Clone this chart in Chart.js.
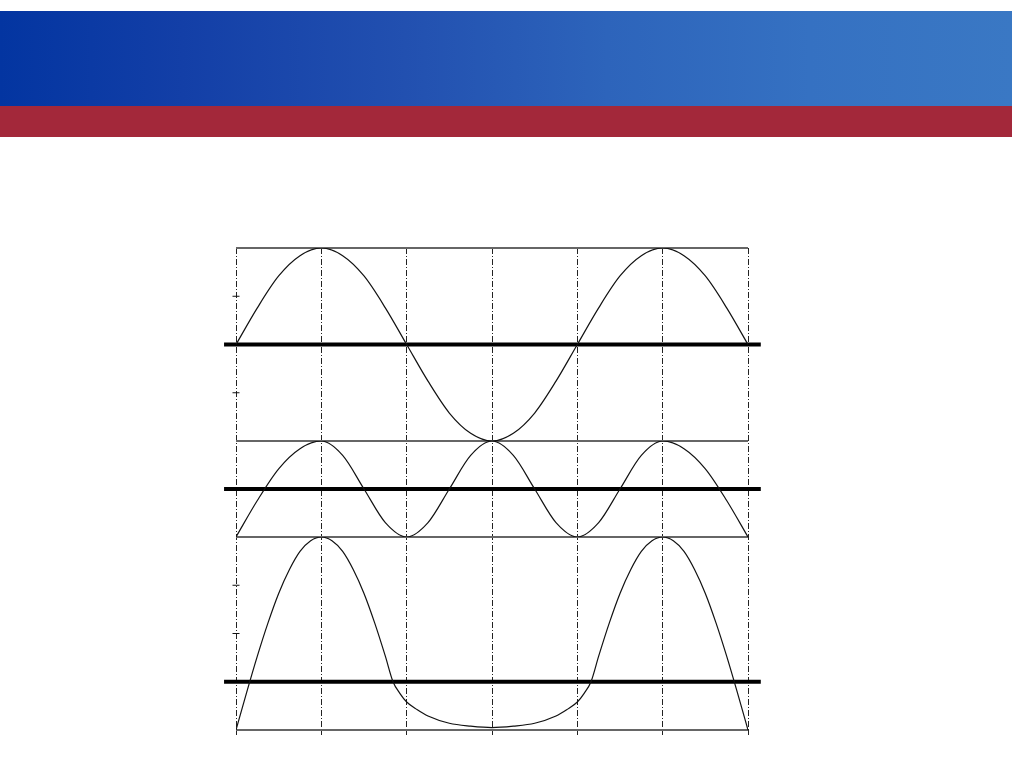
<!DOCTYPE html>
<html>
<head>
<meta charset="utf-8">
<title>Waves</title>
<script src="https://cdn.jsdelivr.net/npm/chart.js@4/dist/chart.umd.min.js"></script>
<style>
    body { margin: 0; background: #fff; width: 1012px; height: 782px; overflow: hidden; position: relative; }
    .band-blue {
        position: absolute; left: 0; top: 11px; width: 1012px; height: 95px;
        background: linear-gradient(to right, #0335a1 0%, #133fa7 18%, #2250b0 40%, #2d64bb 60%, #3571c2 80%, #3a78c4 100%);
    }
    .band-red { position: absolute; left: 0; top: 106px; width: 1012px; height: 31px; background: #a3283a; }
    #wrap { position: absolute; left: 196px; top: 228px; }
</style>
</head>
<body>
<div class="band-blue"></div>
<div class="band-red"></div>
<div id="wrap"><canvas id="chart" width="580" height="520"></canvas></div>
<script>
// x positions in quarter periods
const xs = [0, 0.25, 0.5, 0.75, 1, 1.25, 1.5, 1.75, 2, 2.25, 2.5, 2.75, 3,
    3.25, 3.5, 3.75, 4, 4.25, 4.5, 4.75, 5, 5.25, 5.5, 5.75, 6];

// top panel
const waveTop = [0, 0.38, 0.71, 0.92, 1, 0.92, 0.71, 0.38, 0, -0.38, -0.71, -0.92, -1,
    -0.92, -0.71, -0.38, 0, 0.38, 0.71, 0.92, 1, 0.92, 0.71, 0.38, 0];

// middle panel
const waveMid = [0, 0.38, 0.71, 0.92, 1, 0.85, 0.5, 0.15, 0, 0.15, 0.5, 0.85, 1,
    0.85, 0.5, 0.15, 0, 0.15, 0.5, 0.85, 1, 0.92, 0.71, 0.38, 0];

// bottom panel, sampled finer around the bends
const xsLow = [0, 0.125, 0.25, 0.375, 0.5, 0.625, 0.75, 0.875, 1, 1.125, 1.25, 1.375, 1.5,
    1.625, 1.75, 1.84, 1.92, 2, 2.125, 2.25, 2.5, 2.75, 3, 3.25, 3.5, 3.75, 3.875, 4,
    4.08, 4.16, 4.25, 4.375, 4.5, 4.625, 4.75, 4.875, 5, 5.125, 5.25, 5.375, 5.5, 5.625,
    5.75, 5.875, 6];
const waveLow = [-1, -0.22, 0.53, 1.22, 1.83, 2.32, 2.7, 2.92, 3, 2.92, 2.7, 2.32, 1.83,
    1.22, 0.53, 0, -0.24, -0.42, -0.58, -0.71, -0.86, -0.92, -0.95, -0.92, -0.86, -0.71, -0.58, -0.42,
    -0.24, 0, 0.53, 1.22, 1.83, 2.32, 2.7, 2.92, 3, 2.92, 2.7, 2.32, 1.83, 1.22,
    0.53, -0.22, -1];

// reference levels (thick lines), panel ranges and small tick marks
const levelTop = 0, levelMid = 0.5, levelLow = 0;
const rangeTop = [-1, 1], rangeMid = [0, 1], rangeLow = [-1, 3];
const marksTop = [-0.5, 0.5], marksLow = [1, 2];

const X_MIN = 0, X_MAX = 6;
const LINE_FROM = -0.14, LINE_TO = 6.15;
const dashDot = [6, 2, 1, 2];

var toPoints = function(xv, yv) {
    return yv.map((v, i) => ({ x: xv[i], y: v }));
};

var curve = function(data, axis) {
    return {
        data: data,
        yAxisID: axis,
        borderColor: '#111',
        borderWidth: 1.2,
        pointRadius: 0,
        cubicInterpolationMode: 'monotone',
        fill: false,
    };
};

var hline = function(value, axis, from, to, color, width) {
    return {
        data: [{ x: from, y: value }, { x: to, y: value }],
        yAxisID: axis,
        borderColor: color,
        borderWidth: width,
        pointRadius: 0,
        clip: false,
        fill: false,
    };
};

// short tick marks on the left edge
var marks = function(values, axis) {
    return {
        data: values.map(v => ({ x: X_MIN, y: v })),
        yAxisID: axis,
        showLine: false,
        pointStyle: 'line',
        pointRadius: 3.5,
        borderColor: '#111',
        borderWidth: 1,
        clip: false,
    };
};

var panelAxis = function(range, weight) {
    return {
        type: 'linear',
        position: 'left',
        stack: 'panels',
        stackWeight: weight,
        min: range[0],
        max: range[1],
        ticks: { display: false },
        border: { display: false },
        grid: { display: false, drawTicks: false },
    };
};

var datasets = [
    curve(toPoints(xsLow, waveLow), 'yLow'),
    curve(toPoints(xs, waveMid), 'yMid'),
    curve(toPoints(xs, waveTop), 'yTop'),
];
[['yTop', rangeTop], ['yMid', rangeMid], ['yLow', rangeLow]].forEach(p => {
    datasets.push(hline(p[1][0], p[0], X_MIN, X_MAX, '#666', 2));
    datasets.push(hline(p[1][1], p[0], X_MIN, X_MAX, '#666', 2));
});
datasets.push(hline(levelLow, 'yLow', LINE_FROM, LINE_TO, '#000', 4));
datasets.push(hline(levelMid, 'yMid', LINE_FROM, LINE_TO, '#000', 4));
datasets.push(hline(levelTop, 'yTop', LINE_FROM, LINE_TO, '#000', 4));
datasets.push(marks(marksTop, 'yTop'));
datasets.push(marks(marksLow, 'yLow'));

var ctx = document.getElementById('chart');
var chart = new Chart(ctx, {
    type: 'line',
    data: { datasets: datasets },
    options: {
        responsive: false,
        animation: false,
        devicePixelRatio: 1,
        layout: { padding: { left: 40, right: 28, top: 20, bottom: 13 } },
        plugins: { legend: { display: false }, tooltip: { enabled: false } },
        scales: {
            x: {
                type: 'linear',
                min: X_MIN,
                max: X_MAX,
                ticks: { display: false, stepSize: 1 },
                border: { display: false, dash: dashDot },
                grid: {
                    color: '#222',
                    lineWidth: 1,
                    tickLength: 5,
                    tickBorderDash: dashDot,
                },
            },
            yLow: panelAxis(rangeLow, 193),
            yMid: panelAxis(rangeMid, 96),
            yTop: panelAxis(rangeTop, 193),
        },
    },
});
</script>
</body>
</html>
